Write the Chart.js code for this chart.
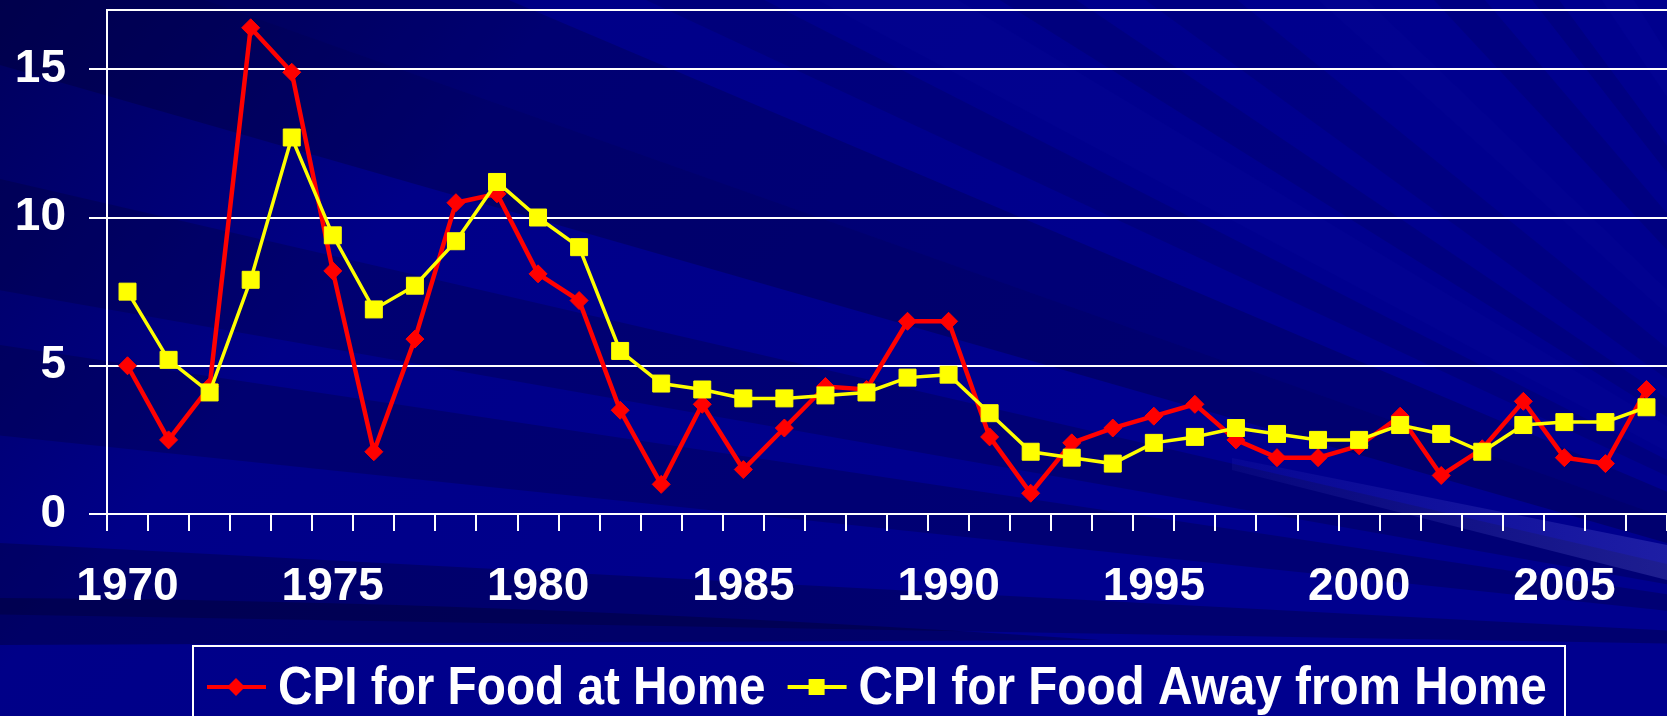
<!DOCTYPE html>
<html>
<head>
<meta charset="utf-8">
<title>CPI for Food</title>
<script src="https://cdn.jsdelivr.net/npm/chart.js@4.4.0/dist/chart.umd.min.js"></script>
<style>
  html, body { margin: 0; padding: 0; background: #000088; overflow: hidden; }
  #wrap { width: 1667px; height: 716px; }
</style>
</head>
<body>
<div id="wrap"><canvas id="cpiChart" width="1667" height="716"></canvas></div>
<script>
// Data
const years = ['1970','1971','1972','1973','1974','1975','1976','1977','1978','1979',
               '1980','1981','1982','1983','1984','1985','1986','1987','1988','1989',
               '1990','1991','1992','1993','1994','1995','1996','1997','1998','1999',
               '2000','2001','2002','2003','2004','2005','2006','2007'];
const foodAtHome = [5.0, 2.5, 4.3, 16.4, 14.9, 8.2, 2.1, 5.9, 10.5, 10.8,
                    8.1, 7.2, 3.5, 1.0, 3.7, 1.5, 2.9, 4.3, 4.2, 6.5,
                    6.5, 2.6, 0.7, 2.4, 2.9, 3.3, 3.7, 2.5, 1.9, 1.9,
                    2.3, 3.3, 1.3, 2.2, 3.8, 1.9, 1.7, 4.2];
const foodAway = [7.5, 5.2, 4.1, 7.9, 12.7, 9.4, 6.9, 7.7, 9.2, 11.2,
                  10.0, 9.0, 5.5, 4.4, 4.2, 3.9, 3.9, 4.0, 4.1, 4.6,
                  4.7, 3.4, 2.1, 1.9, 1.7, 2.4, 2.6, 2.9, 2.7, 2.5,
                  2.5, 3.0, 2.7, 2.1, 3.0, 3.1, 3.1, 3.6];
const xTickLabels = ['1970','1975','1980','1985','1990','1995','2000','2005'];
const yTicks = [0, 5, 10, 15, 17];
const yMax = 17;

const W = 1667, H = 716;
const FONT = '"Liberation Sans", Arial, Helvetica, sans-serif';

// Background: navy with a fan of faint streaks converging off the lower right
const bgPlugin = {
    id: 'bg',
    beforeDraw(chart) {
        const ctx = chart.ctx;
        ctx.save();
        const g = ctx.createLinearGradient(0, 0, W * 0.5, H);
        g.addColorStop(0, '#00005c');
        g.addColorStop(0.4, '#000088');
        g.addColorStop(1, '#00008e');
        ctx.fillStyle = g;
        ctx.fillRect(0, 0, W, H);

        const cx = 2040, cy = 650, R = 3000;
        const bands = [
            [196, 199.5, 'rgba(0,0,40,0.30)'],
            [199.5, 203, 'rgba(0,0,30,0.20)'],
            [205, 207, 'rgba(0,0,60,0.18)'],
            [208, 211, 'rgba(30,30,200,0.06)'],
            [212, 214, 'rgba(0,0,40,0.13)'],
            [216, 219, 'rgba(0,0,50,0.12)'],
            [222, 224, 'rgba(30,30,200,0.05)'],
            [227, 229.5, 'rgba(0,0,40,0.12)'],
            [232, 233.5, 'rgba(0,0,50,0.14)'],
            [236, 238, 'rgba(30,30,210,0.08)'],
            [186, 188.5, 'rgba(0,0,40,0.25)'],
            [190, 193, 'rgba(0,0,30,0.22)'],
            [181, 183, 'rgba(0,0,40,0.30)']
        ];
        bands.forEach(b => {
            const a0 = b[0] * Math.PI / 180, a1 = b[1] * Math.PI / 180;
            ctx.beginPath();
            ctx.moveTo(cx, cy);
            ctx.lineTo(cx + R * Math.cos(a0), cy + R * Math.sin(a0));
            ctx.lineTo(cx + R * Math.cos(a1), cy + R * Math.sin(a1));
            ctx.closePath();
            ctx.fillStyle = b[2];
            ctx.fill();
        });

        // dark band across the bottom left, under the year labels
        ctx.beginPath();
        ctx.moveTo(0, 598);
        ctx.quadraticCurveTo(500, 600, 1100, 640);
        ctx.lineTo(0, 645);
        ctx.closePath();
        ctx.fillStyle = 'rgba(0,0,40,0.35)';
        ctx.fill();

        // light beam lower right
        ctx.beginPath();
        ctx.moveTo(1232, 458);
        ctx.lineTo(W, 545);
        ctx.lineTo(W, 580);
        ctx.lineTo(1232, 470);
        ctx.closePath();
        const lg = ctx.createLinearGradient(1232, 0, W, 0);
        lg.addColorStop(0, 'rgba(120,120,255,0.06)');
        lg.addColorStop(1, 'rgba(150,150,255,0.2)');
        ctx.fillStyle = lg;
        ctx.fill();
        ctx.restore();
    }
};

// Boxed legend with line + marker, like the original
const legendPlugin = {
    id: 'boxLegend',
    afterDraw(chart) {
        const ctx = chart.ctx;
        const midY = 687;
        ctx.save();
        ctx.strokeStyle = '#ffffff';
        ctx.lineWidth = 2;
        ctx.strokeRect(193, 646, 1372, 120);

        const sx = 0.9;
        ctx.font = 'bold 53px ' + FONT;
        ctx.textBaseline = 'alphabetic';
        let x = 207;
        chart.data.datasets.forEach(ds => {
            ctx.strokeStyle = ds.borderColor;
            ctx.lineWidth = 4;
            ctx.beginPath();
            ctx.moveTo(x, midY);
            ctx.lineTo(x + 59, midY);
            ctx.stroke();
            ctx.fillStyle = ds.backgroundColor;
            const mx = x + 29;
            if (ds.pointStyle === 'rectRot') {
                ctx.beginPath();
                ctx.moveTo(mx, midY - 9);
                ctx.lineTo(mx + 9, midY);
                ctx.lineTo(mx, midY + 9);
                ctx.lineTo(mx - 9, midY);
                ctx.closePath();
                ctx.fill();
            } else {
                ctx.fillRect(mx - 8, midY - 8, 16, 16);
            }
            ctx.fillStyle = '#ffffff';
            ctx.save();
            ctx.translate(x + 71, 704);
            ctx.scale(sx, 1);
            ctx.fillText(ds.label, 0, 0);
            ctx.restore();
            x += 71 + ctx.measureText(ds.label).width * sx + 22;
        });
        ctx.restore();
    }
};

const ctx = document.getElementById('cpiChart');
new Chart(ctx, {
    type: 'line',
    data: {
        labels: years,
        datasets: [{
            label: 'CPI for Food at Home',
            data: foodAtHome,
            borderColor: '#ff0000',
            backgroundColor: '#ff0000',
            borderWidth: 4.5,
            pointStyle: 'rectRot',
            pointRadius: 9,
            pointBorderWidth: 1,
            tension: 0,
            clip: false,
            order: 2
        }, {
            label: 'CPI for Food Away from Home',
            data: foodAway,
            borderColor: '#ffff00',
            backgroundColor: '#ffff00',
            borderWidth: 3.5,
            pointStyle: 'rect',
            pointRadius: 12,
            pointBorderWidth: 1,
            tension: 0,
            clip: false,
            order: 1
        }]
    },
    options: {
        responsive: false,
        animation: false,
        layout: { autoPadding: false, padding: { top: 10, right: 0, bottom: 0, left: 0 } },
        plugins: {
            legend: { display: false },
            tooltip: { enabled: false }
        },
        scales: {
            x: {
                offset: true,
                grid: { offset: true, drawOnChartArea: false, color: '#ffffff', lineWidth: 2, tickLength: 17 },
                border: { color: '#ffffff', width: 2 },
                ticks: {
                    color: '#ffffff',
                    font: { family: FONT, size: 46, weight: 'bold' },
                    autoSkip: false,
                    maxRotation: 0,
                    padding: 29,
                    callback: function(v) {
                        const l = this.getLabelForValue(v);
                        return xTickLabels.includes(l) ? l : '';
                    }
                },
                afterFit(scale) {
                    scale.height = 202;
                    scale.paddingLeft = 0;
                    scale.paddingRight = 0;
                }
            },
            y: {
                min: 0,
                max: yMax,
                afterBuildTicks(scale) {
                    scale.ticks = yTicks.map(v => ({ value: v }));
                },
                grid: {
                    color: '#ffffff',
                    lineWidth: 2,
                    tickLength: 18,
                    tickColor: c => (c.tick && c.tick.value === yMax) ? 'rgba(0,0,0,0)' : '#ffffff'
                },
                border: { color: '#ffffff', width: 2 },
                ticks: {
                    color: '#ffffff',
                    font: { family: FONT, size: 46, weight: 'bold' },
                    padding: 23,
                    callback: v => v === yMax ? '' : v
                },
                afterFit(scale) {
                    scale.width = 107;
                    scale.paddingTop = 0;
                    scale.paddingBottom = 0;
                }
            }
        }
    },
    plugins: [bgPlugin, legendPlugin]
});
</script>
</body>
</html>
